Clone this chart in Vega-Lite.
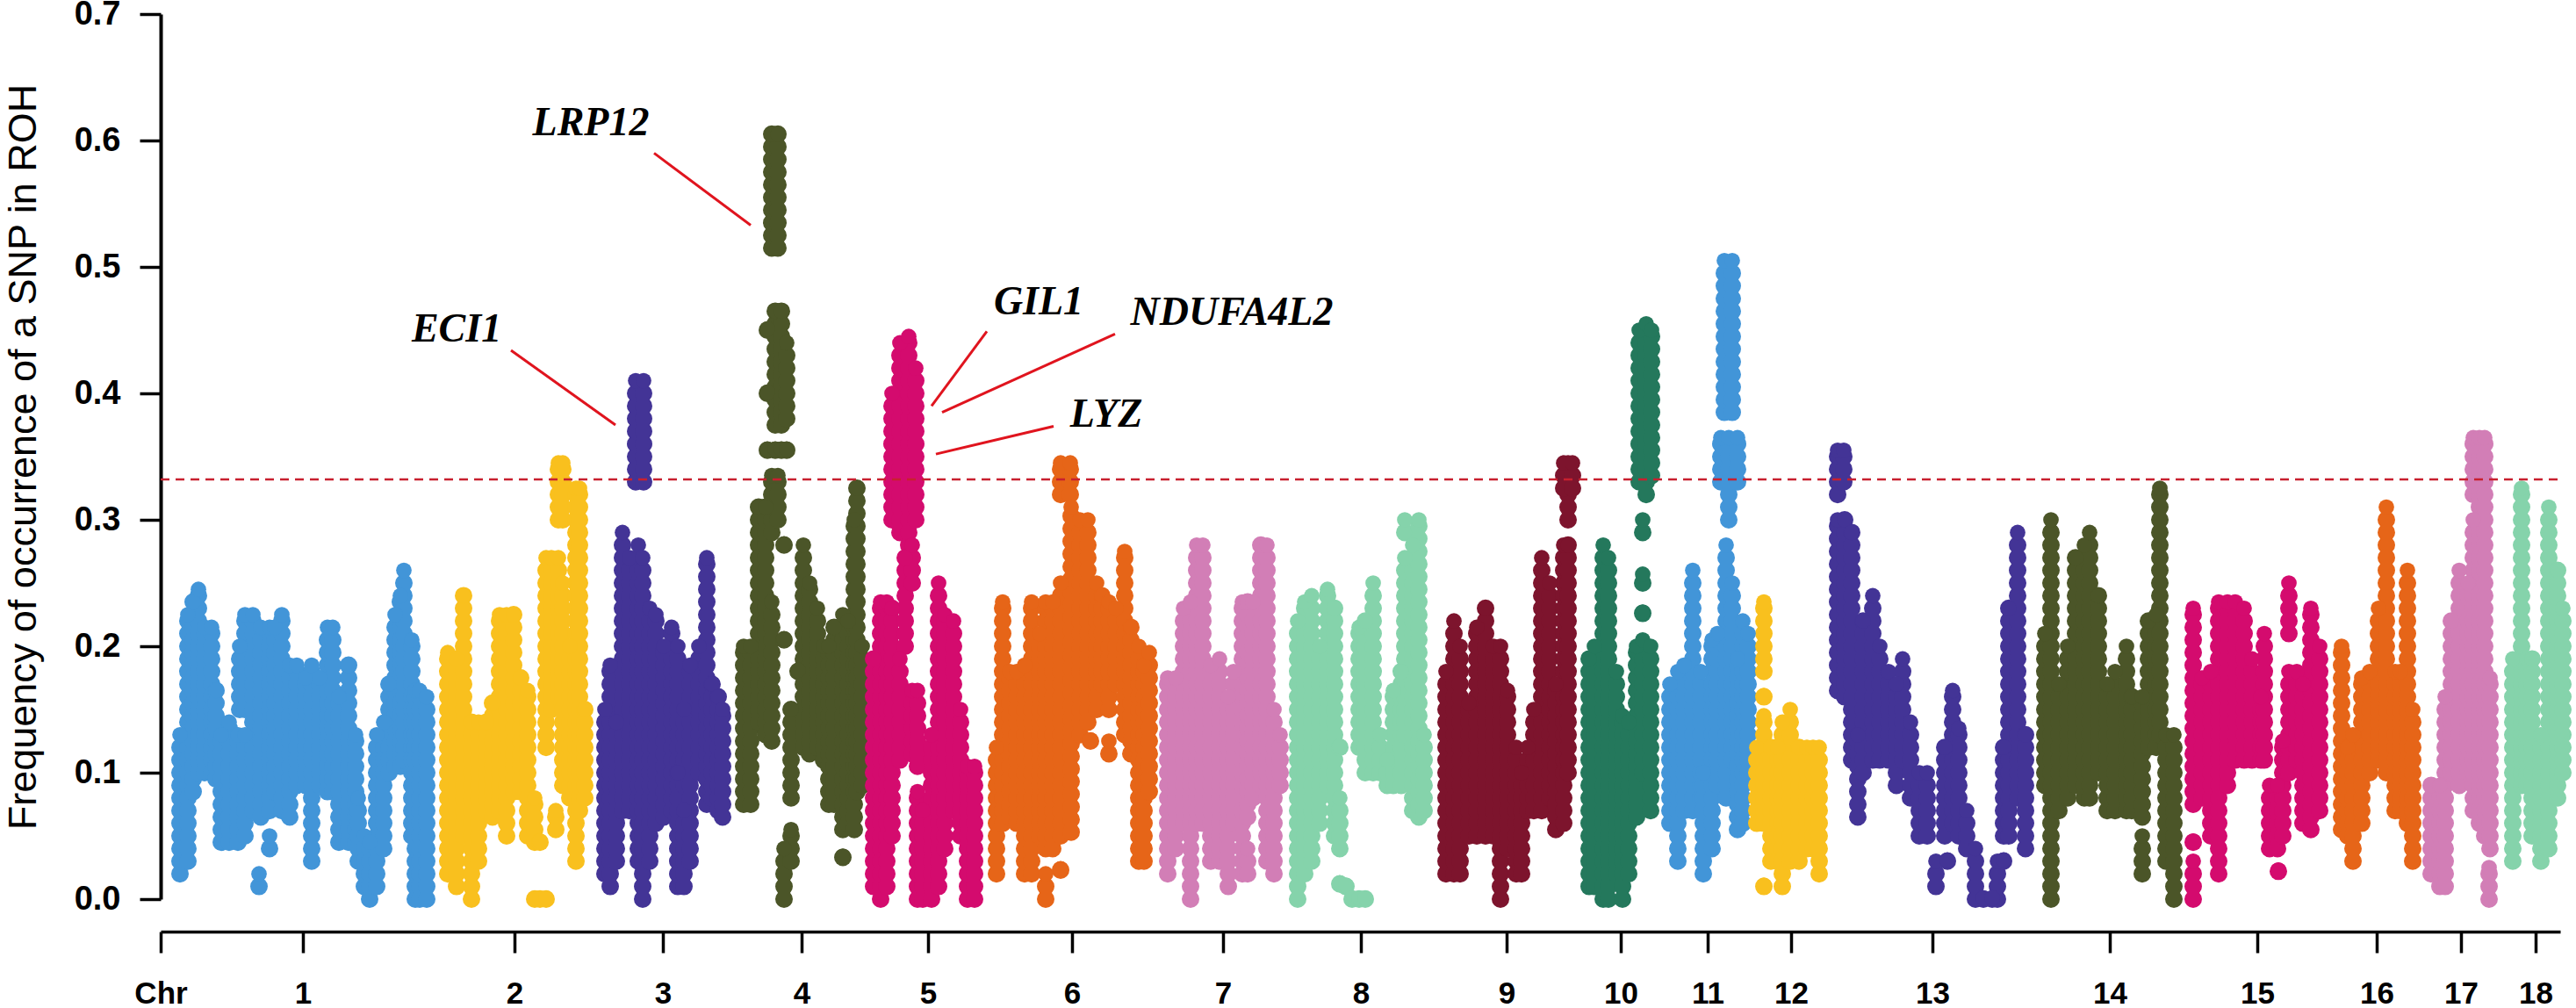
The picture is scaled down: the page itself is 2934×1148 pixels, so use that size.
{
"$schema":"https://vega.github.io/schema/vega-lite/v6.json",
"width":2733,"height":1008,
"autosize":{"type":"none"},
"padding":{"left":183,"top":16,"right":18,"bottom":124},
"background":"white",
"config":{"view":{"stroke":null},"font":"Liberation Sans"},
"datasets":{"runs":[
{"c":1,"x":22,"y":0.02,"y2":0.13},{"c":1,"x":31,"y":0.03,"y2":0.225},{"c":1,"x":37,"y":0.085,"y2":0.235},{"c":1,"x":43,"y":0.1,"y2":0.245},{"c":1,"x":50,"y":0.1,"y2":0.215},{"c":1,"x":58,"y":0.1,"y2":0.215},{"c":1,"x":63,"y":0.095,"y2":0.165},{"c":1,"x":69,"y":0.045,"y2":0.13},{"c":1,"x":78,"y":0.045,"y2":0.14},{"c":1,"x":88,"y":0.045,"y2":0.13},{"c":1,"x":96,"y":0.05,"y2":0.13},{"c":1,"x":90,"y":0.15,"y2":0.2},{"c":1,"x":96,"y":0.15,"y2":0.225},{"c":1,"x":105,"y":0.07,"y2":0.225},{"c":1,"x":112,"y":0.01,"y2":0.02},{"c":1,"x":114,"y":0.065,"y2":0.215},{"c":1,"x":124,"y":0.04,"y2":0.05},{"c":1,"x":124,"y":0.07,"y2":0.215},{"c":1,"x":130,"y":0.085,"y2":0.215},{"c":1,"x":138,"y":0.07,"y2":0.225},{"c":1,"x":147,"y":0.065,"y2":0.185},{"c":1,"x":155,"y":0.09,"y2":0.185},{"c":1,"x":165,"y":0.09,"y2":0.175},{"c":1,"x":172,"y":0.03,"y2":0.185},{"c":1,"x":181,"y":0.09,"y2":0.175},{"c":1,"x":190,"y":0.085,"y2":0.215},{"c":1,"x":196,"y":0.085,"y2":0.215},{"c":1,"x":203,"y":0.045,"y2":0.16},{"c":1,"x":214,"y":0.045,"y2":0.185},{"c":1,"x":222,"y":0.045,"y2":0.13},{"c":1,"x":225,"y":0.03,"y2":0.08},{"c":1,"x":232,"y":0.01,"y2":0.05},{"c":1,"x":238,"y":0,"y2":0.045},{"c":1,"x":246,"y":0.01,"y2":0.13},{"c":1,"x":254,"y":0.04,"y2":0.14},{"c":1,"x":260,"y":0.1,"y2":0.17},{"c":1,"x":267,"y":0.105,"y2":0.225},{"c":1,"x":273,"y":0.105,"y2":0.24},{"c":1,"x":277,"y":0.11,"y2":0.26},{"c":1,"x":286,"y":0.05,"y2":0.205},{"c":1,"x":290,"y":0,"y2":0.165},{"c":1,"x":295,"y":0,"y2":0.165},{"c":1,"x":303,"y":0,"y2":0.16},
{"c":2,"x":327,"y":0.02,"y2":0.195},{"c":2,"x":337,"y":0.01,"y2":0.19},{"c":2,"x":345,"y":0.05,"y2":0.24},{"c":2,"x":354,"y":0,"y2":0.14},{"c":2,"x":362,"y":0.03,"y2":0.14},{"c":2,"x":371,"y":0.07,"y2":0.14},{"c":2,"x":378,"y":0.065,"y2":0.155},{"c":2,"x":386,"y":0.07,"y2":0.225},{"c":2,"x":394,"y":0.05,"y2":0.225},{"c":2,"x":402,"y":0.085,"y2":0.225},{"c":2,"x":410,"y":0.085,"y2":0.175},{"c":2,"x":418,"y":0.05,"y2":0.165},{"c":2,"x":426,"y":0.045,"y2":0.08},{"c":2,"x":426,"y":0,"y2":0.001},{"c":2,"x":432,"y":0,"y2":0.001},{"c":2,"x":439,"y":0,"y2":0.001},{"c":2,"x":432,"y":0.045,"y2":0.046},{"c":2,"x":439,"y":0.12,"y2":0.27},{"c":2,"x":445,"y":0.15,"y2":0.27},{"c":2,"x":450,"y":0.055,"y2":0.07},{"c":2,"x":453,"y":0.16,"y2":0.27},{"c":2,"x":453,"y":0.3,"y2":0.345},{"c":2,"x":458,"y":0.09,"y2":0.25},{"c":2,"x":458,"y":0.3,"y2":0.345},{"c":2,"x":466,"y":0.08,"y2":0.2},{"c":2,"x":473,"y":0.03,"y2":0.325},{"c":2,"x":477,"y":0.07,"y2":0.325},{"c":2,"x":483,"y":0.08,"y2":0.15},
{"c":3,"x":506,"y":0.02,"y2":0.15},{"c":3,"x":512,"y":0.01,"y2":0.185},{"c":3,"x":519,"y":0.03,"y2":0.14},{"c":3,"x":526,"y":0.07,"y2":0.29},{"c":3,"x":534,"y":0.07,"y2":0.27},{"c":3,"x":544,"y":0.03,"y2":0.28},{"c":3,"x":549,"y":0,"y2":0.27},{"c":3,"x":557,"y":0.03,"y2":0.23},{"c":3,"x":564,"y":0.06,"y2":0.225},{"c":3,"x":573,"y":0.065,"y2":0.2},{"c":3,"x":582,"y":0.07,"y2":0.215},{"c":3,"x":589,"y":0.1,"y2":0.2},{"c":3,"x":589,"y":0.01,"y2":0.1},{"c":3,"x":596,"y":0.01,"y2":0.07},{"c":3,"x":596,"y":0.09,"y2":0.15},{"c":3,"x":603,"y":0.03,"y2":0.185},{"c":3,"x":613,"y":0.1,"y2":0.2},{"c":3,"x":622,"y":0.075,"y2":0.27},{"c":3,"x":628,"y":0.08,"y2":0.17},{"c":3,"x":635,"y":0.07,"y2":0.16},{"c":3,"x":640,"y":0.065,"y2":0.15},{"c":3,"x":541,"y":0.33,"y2":0.41},{"c":3,"x":550,"y":0.33,"y2":0.41},
{"c":4,"x":664,"y":0.075,"y2":0.2},{"c":4,"x":672,"y":0.075,"y2":0.2},{"c":4,"x":681,"y":0.14,"y2":0.31},{"c":4,"x":689,"y":0.13,"y2":0.31},{"c":4,"x":696,"y":0.125,"y2":0.235},{"c":4,"x":696,"y":0.29,"y2":0.335},{"c":4,"x":703,"y":0.3,"y2":0.335},{"c":4,"x":696,"y":0.515,"y2":0.605},{"c":4,"x":703,"y":0.515,"y2":0.605},{"c":4,"x":691,"y":0.355,"y2":0.356},{"c":4,"x":700,"y":0.355,"y2":0.356},{"c":4,"x":707,"y":0.355,"y2":0.356},{"c":4,"x":713,"y":0.355,"y2":0.356},{"c":4,"x":691,"y":0.4,"y2":0.401},{"c":4,"x":691,"y":0.45,"y2":0.451},{"c":4,"x":700,"y":0.375,"y2":0.465},{"c":4,"x":707,"y":0.375,"y2":0.465},{"c":4,"x":713,"y":0.38,"y2":0.44},{"c":4,"x":710,"y":0.28,"y2":0.281},{"c":4,"x":710,"y":0.205,"y2":0.206},{"c":4,"x":710,"y":0,"y2":0.04},{"c":4,"x":718,"y":0.03,"y2":0.055},{"c":4,"x":718,"y":0.08,"y2":0.15},{"c":4,"x":726,"y":0.18,"y2":0.181},{"c":4,"x":732,"y":0.12,"y2":0.28},{"c":4,"x":739,"y":0.115,"y2":0.25},{"c":4,"x":748,"y":0.12,"y2":0.23},{"c":4,"x":755,"y":0.11,"y2":0.2},{"c":4,"x":761,"y":0.075,"y2":0.2},{"c":4,"x":767,"y":0.075,"y2":0.215},{"c":4,"x":777,"y":0.055,"y2":0.225},{"c":4,"x":777,"y":0.033,"y2":0.034},{"c":4,"x":783,"y":0.06,"y2":0.22},{"c":4,"x":790,"y":0.055,"y2":0.3},{"c":4,"x":793,"y":0.085,"y2":0.325},{"c":4,"x":799,"y":0.09,"y2":0.2},
{"c":5,"x":812,"y":0.01,"y2":0.19},{"c":5,"x":820,"y":0,"y2":0.235},{"c":5,"x":827,"y":0.01,"y2":0.235},{"c":5,"x":833,"y":0.05,"y2":0.23},{"c":5,"x":833,"y":0.3,"y2":0.4},{"c":5,"x":842,"y":0.11,"y2":0.19},{"c":5,"x":842,"y":0.29,"y2":0.44},{"c":5,"x":852,"y":0.28,"y2":0.445},{"c":5,"x":860,"y":0.3,"y2":0.42},{"c":5,"x":848,"y":0.2,"y2":0.27},{"c":5,"x":856,"y":0.25,"y2":0.28},{"c":5,"x":856,"y":0.115,"y2":0.165},{"c":5,"x":862,"y":0,"y2":0.085},{"c":5,"x":862,"y":0.105,"y2":0.165},{"c":5,"x":868,"y":0,"y2":0.07},{"c":5,"x":878,"y":0,"y2":0.13},{"c":5,"x":886,"y":0.01,"y2":0.25},{"c":5,"x":893,"y":0.04,"y2":0.225},{"c":5,"x":903,"y":0.07,"y2":0.22},{"c":5,"x":911,"y":0.05,"y2":0.15},{"c":5,"x":919,"y":0,"y2":0.105},{"c":5,"x":927,"y":0,"y2":0.105},
{"c":6,"x":952,"y":0.02,"y2":0.12},{"c":6,"x":959,"y":0.06,"y2":0.235},{"c":6,"x":967,"y":0.065,"y2":0.18},{"c":6,"x":975,"y":0.06,"y2":0.18},{"c":6,"x":984,"y":0.02,"y2":0.185},{"c":6,"x":992,"y":0.02,"y2":0.235},{"c":6,"x":1001,"y":0.05,"y2":0.21},{"c":6,"x":1008,"y":0,"y2":0.02},{"c":6,"x":1008,"y":0.04,"y2":0.235},{"c":6,"x":1016,"y":0.04,"y2":0.235},{"c":6,"x":1025,"y":0.023,"y2":0.024},{"c":6,"x":1025,"y":0.05,"y2":0.25},{"c":6,"x":1025,"y":0.32,"y2":0.345},{"c":6,"x":1036,"y":0.32,"y2":0.345},{"c":6,"x":1037,"y":0.053,"y2":0.31},{"c":6,"x":1047,"y":0.13,"y2":0.3},{"c":6,"x":1056,"y":0.14,"y2":0.3},{"c":6,"x":1059,"y":0.125,"y2":0.126},{"c":6,"x":1066,"y":0.15,"y2":0.25},{"c":6,"x":1072,"y":0.17,"y2":0.24},{"c":6,"x":1080,"y":0.115,"y2":0.125},{"c":6,"x":1080,"y":0.15,"y2":0.235},{"c":6,"x":1088,"y":0.17,"y2":0.23},{"c":6,"x":1098,"y":0.13,"y2":0.275},{"c":6,"x":1105,"y":0.115,"y2":0.215},{"c":6,"x":1114,"y":0.03,"y2":0.2},{"c":6,"x":1120,"y":0.03,"y2":0.185},{"c":6,"x":1126,"y":0.085,"y2":0.195},
{"c":7,"x":1147,"y":0.02,"y2":0.175},{"c":7,"x":1156,"y":0.04,"y2":0.175},{"c":7,"x":1165,"y":0.06,"y2":0.23},{"c":7,"x":1173,"y":0,"y2":0.235},{"c":7,"x":1180,"y":0.06,"y2":0.28},{"c":7,"x":1187,"y":0.06,"y2":0.28},{"c":7,"x":1196,"y":0.03,"y2":0.185},{"c":7,"x":1206,"y":0.03,"y2":0.19},{"c":7,"x":1216,"y":0.01,"y2":0.16},{"c":7,"x":1222,"y":0.06,"y2":0.18},{"c":7,"x":1232,"y":0.02,"y2":0.235},{"c":7,"x":1238,"y":0.02,"y2":0.04},{"c":7,"x":1238,"y":0.065,"y2":0.235},{"c":7,"x":1244,"y":0.08,"y2":0.235},{"c":7,"x":1253,"y":0.09,"y2":0.28},{"c":7,"x":1260,"y":0.03,"y2":0.28},{"c":7,"x":1268,"y":0.02,"y2":0.15},{"c":7,"x":1275,"y":0.09,"y2":0.13},
{"c":8,"x":1295,"y":0,"y2":0.22},{"c":8,"x":1303,"y":0.02,"y2":0.235},{"c":8,"x":1311,"y":0.03,"y2":0.24},{"c":8,"x":1320,"y":0.06,"y2":0.2},{"c":8,"x":1329,"y":0.09,"y2":0.245},{"c":8,"x":1337,"y":0.05,"y2":0.23},{"c":8,"x":1343,"y":0.04,"y2":0.08},{"c":8,"x":1343,"y":0.12,"y2":0.121},{"c":8,"x":1343,"y":0.012,"y2":0.013},{"c":8,"x":1350,"y":0.01,"y2":0.011},{"c":8,"x":1357,"y":0,"y2":0.001},{"c":8,"x":1365,"y":0,"y2":0.001},{"c":8,"x":1372,"y":0,"y2":0.001},{"c":8,"x":1365,"y":0.12,"y2":0.215},{"c":8,"x":1372,"y":0.1,"y2":0.22},{"c":8,"x":1381,"y":0.1,"y2":0.25},{"c":8,"x":1389,"y":0.1,"y2":0.13},{"c":8,"x":1397,"y":0.09,"y2":0.11},{"c":8,"x":1404,"y":0.09,"y2":0.165},{"c":8,"x":1413,"y":0.09,"y2":0.18},{"c":8,"x":1417,"y":0.13,"y2":0.27},{"c":8,"x":1417,"y":0.29,"y2":0.3},{"c":8,"x":1426,"y":0.07,"y2":0.28},{"c":8,"x":1433,"y":0.065,"y2":0.3},{"c":8,"x":1439,"y":0.07,"y2":0.13},
{"c":9,"x":1464,"y":0.02,"y2":0.18},{"c":9,"x":1473,"y":0.02,"y2":0.22},{"c":9,"x":1480,"y":0.02,"y2":0.2},{"c":9,"x":1490,"y":0.05,"y2":0.155},{"c":9,"x":1499,"y":0.05,"y2":0.215},{"c":9,"x":1509,"y":0.05,"y2":0.23},{"c":9,"x":1518,"y":0.05,"y2":0.2},{"c":9,"x":1526,"y":0,"y2":0.2},{"c":9,"x":1534,"y":0.04,"y2":0.165},{"c":9,"x":1544,"y":0.02,"y2":0.12},{"c":9,"x":1550,"y":0.02,"y2":0.1},{"c":9,"x":1557,"y":0.07,"y2":0.12},{"c":9,"x":1564,"y":0.07,"y2":0.15},{"c":9,"x":1573,"y":0.07,"y2":0.27},{"c":9,"x":1582,"y":0.08,"y2":0.25},{"c":9,"x":1589,"y":0.055,"y2":0.17},{"c":9,"x":1598,"y":0.06,"y2":0.28},{"c":9,"x":1603,"y":0.1,"y2":0.28},{"c":9,"x":1603,"y":0.3,"y2":0.345},{"c":9,"x":1598,"y":0.325,"y2":0.345},{"c":9,"x":1608,"y":0.325,"y2":0.345},
{"c":10,"x":1627,"y":0.01,"y2":0.19},{"c":10,"x":1633,"y":0.01,"y2":0.2},{"c":10,"x":1643,"y":0,"y2":0.28},{"c":10,"x":1649,"y":0,"y2":0.27},{"c":10,"x":1658,"y":0.02,"y2":0.18},{"c":10,"x":1665,"y":0,"y2":0.145},{"c":10,"x":1672,"y":0.02,"y2":0.14},{"c":10,"x":1681,"y":0.065,"y2":0.2},{"c":10,"x":1688,"y":0.1,"y2":0.205},{"c":10,"x":1688,"y":0.29,"y2":0.3},{"c":10,"x":1688,"y":0.25,"y2":0.257},{"c":10,"x":1688,"y":0.226,"y2":0.227},{"c":10,"x":1697,"y":0.07,"y2":0.2},{"c":10,"x":1684,"y":0.33,"y2":0.45},{"c":10,"x":1692,"y":0.32,"y2":0.455},{"c":10,"x":1698,"y":0.335,"y2":0.45},
{"c":11,"x":1719,"y":0.06,"y2":0.17},{"c":11,"x":1728,"y":0.03,"y2":0.18},{"c":11,"x":1735,"y":0.07,"y2":0.185},{"c":11,"x":1745,"y":0.07,"y2":0.26},{"c":11,"x":1754,"y":0.08,"y2":0.18},{"c":11,"x":1757,"y":0.02,"y2":0.1},{"c":11,"x":1767,"y":0.04,"y2":0.205},{"c":11,"x":1773,"y":0.09,"y2":0.21},{"c":11,"x":1783,"y":0.08,"y2":0.28},{"c":11,"x":1790,"y":0.11,"y2":0.25},{"c":11,"x":1796,"y":0.055,"y2":0.19},{"c":11,"x":1802,"y":0.06,"y2":0.22},{"c":11,"x":1808,"y":0.1,"y2":0.21},{"c":11,"x":1781,"y":0.385,"y2":0.505},{"c":11,"x":1790,"y":0.385,"y2":0.505},{"c":11,"x":1777,"y":0.33,"y2":0.365},{"c":11,"x":1786,"y":0.3,"y2":0.365},{"c":11,"x":1796,"y":0.33,"y2":0.365},
{"c":12,"x":1818,"y":0.06,"y2":0.12},{"c":12,"x":1826,"y":0.18,"y2":0.235},{"c":12,"x":1826,"y":0.16,"y2":0.161},{"c":12,"x":1826,"y":0.06,"y2":0.145},{"c":12,"x":1826,"y":0.01,"y2":0.011},{"c":12,"x":1834,"y":0.03,"y2":0.12},{"c":12,"x":1842,"y":0.03,"y2":0.12},{"c":12,"x":1847,"y":0.01,"y2":0.14},{"c":12,"x":1856,"y":0.03,"y2":0.15},{"c":12,"x":1866,"y":0.03,"y2":0.12},{"c":12,"x":1875,"y":0.04,"y2":0.12},{"c":12,"x":1882,"y":0.04,"y2":0.12},{"c":12,"x":1889,"y":0.02,"y2":0.12},
{"c":13,"x":1910,"y":0.165,"y2":0.3},{"c":13,"x":1910,"y":0.32,"y2":0.355},{"c":13,"x":1917,"y":0.33,"y2":0.355},{"c":13,"x":1918,"y":0.16,"y2":0.3},{"c":13,"x":1926,"y":0.11,"y2":0.29},{"c":13,"x":1933,"y":0.065,"y2":0.13},{"c":13,"x":1939,"y":0.1,"y2":0.22},{"c":13,"x":1950,"y":0.11,"y2":0.24},{"c":13,"x":1958,"y":0.11,"y2":0.2},{"c":13,"x":1968,"y":0.11,"y2":0.18},{"c":13,"x":1977,"y":0.09,"y2":0.17},{"c":13,"x":1984,"y":0.11,"y2":0.19},{"c":13,"x":1993,"y":0.08,"y2":0.14},{"c":13,"x":2003,"y":0.05,"y2":0.1},{"c":13,"x":2012,"y":0.05,"y2":0.1},{"c":13,"x":2022,"y":0.01,"y2":0.03},{"c":13,"x":2035,"y":0.03,"y2":0.031},{"c":13,"x":2032,"y":0.05,"y2":0.12},{"c":13,"x":2041,"y":0.06,"y2":0.165},{"c":13,"x":2048,"y":0.05,"y2":0.135},{"c":13,"x":2057,"y":0.04,"y2":0.07},{"c":13,"x":2067,"y":0,"y2":0.04},{"c":13,"x":2076,"y":0,"y2":0.001},{"c":13,"x":2086,"y":0,"y2":0.001},{"c":13,"x":2092,"y":0,"y2":0.03},{"c":13,"x":2099,"y":0.03,"y2":0.031},{"c":13,"x":2099,"y":0.05,"y2":0.12},{"c":13,"x":2105,"y":0.05,"y2":0.23},{"c":13,"x":2115,"y":0.08,"y2":0.29},{"c":13,"x":2124,"y":0.04,"y2":0.13},
{"c":14,"x":2146,"y":0.09,"y2":0.21},{"c":14,"x":2153,"y":0,"y2":0.3},{"c":14,"x":2162,"y":0.07,"y2":0.17},{"c":14,"x":2172,"y":0.08,"y2":0.2},{"c":14,"x":2181,"y":0.09,"y2":0.27},{"c":14,"x":2191,"y":0.08,"y2":0.28},{"c":14,"x":2197,"y":0.08,"y2":0.29},{"c":14,"x":2207,"y":0.1,"y2":0.24},{"c":14,"x":2217,"y":0.07,"y2":0.17},{"c":14,"x":2226,"y":0.07,"y2":0.18},{"c":14,"x":2239,"y":0.07,"y2":0.2},{"c":14,"x":2245,"y":0.07,"y2":0.16},{"c":14,"x":2257,"y":0.02,"y2":0.05},{"c":14,"x":2257,"y":0.065,"y2":0.16},{"c":14,"x":2264,"y":0.12,"y2":0.22},{"c":14,"x":2273,"y":0.12,"y2":0.225},{"c":14,"x":2277,"y":0.13,"y2":0.325},{"c":14,"x":2284,"y":0.03,"y2":0.13},{"c":14,"x":2293,"y":0,"y2":0.13},
{"c":15,"x":2315,"y":0,"y2":0.03},{"c":15,"x":2315,"y":0.045,"y2":0.046},{"c":15,"x":2315,"y":0.075,"y2":0.23},{"c":15,"x":2325,"y":0.08,"y2":0.175},{"c":15,"x":2335,"y":0.05,"y2":0.18},{"c":15,"x":2344,"y":0.02,"y2":0.235},{"c":15,"x":2354,"y":0.09,"y2":0.235},{"c":15,"x":2363,"y":0.11,"y2":0.235},{"c":15,"x":2373,"y":0.11,"y2":0.23},{"c":15,"x":2382,"y":0.11,"y2":0.19},{"c":15,"x":2392,"y":0.11,"y2":0.16},{"c":15,"x":2396,"y":0.11,"y2":0.21},{"c":15,"x":2402,"y":0.04,"y2":0.09},{"c":15,"x":2411,"y":0.04,"y2":0.09},{"c":15,"x":2412,"y":0.022,"y2":0.023},{"c":15,"x":2417,"y":0.05,"y2":0.125},{"c":15,"x":2424,"y":0.1,"y2":0.18},{"c":15,"x":2424,"y":0.21,"y2":0.25},{"c":15,"x":2433,"y":0.11,"y2":0.18},{"c":15,"x":2440,"y":0.06,"y2":0.17},{"c":15,"x":2449,"y":0.055,"y2":0.23},{"c":15,"x":2459,"y":0.07,"y2":0.2},
{"c":16,"x":2484,"y":0.055,"y2":0.2},{"c":16,"x":2491,"y":0.05,"y2":0.12},{"c":16,"x":2497,"y":0.03,"y2":0.13},{"c":16,"x":2507,"y":0.06,"y2":0.175},{"c":16,"x":2516,"y":0.1,"y2":0.18},{"c":16,"x":2526,"y":0.11,"y2":0.23},{"c":16,"x":2535,"y":0.1,"y2":0.31},{"c":16,"x":2545,"y":0.07,"y2":0.18},{"c":16,"x":2551,"y":0.07,"y2":0.18},{"c":16,"x":2559,"y":0.06,"y2":0.26},{"c":16,"x":2565,"y":0.03,"y2":0.15},
{"c":17,"x":2586,"y":0.02,"y2":0.09},{"c":17,"x":2596,"y":0.01,"y2":0.09},{"c":17,"x":2602,"y":0.01,"y2":0.16},{"c":17,"x":2609,"y":0.1,"y2":0.22},{"c":17,"x":2618,"y":0.09,"y2":0.26},{"c":17,"x":2628,"y":0.1,"y2":0.25},{"c":17,"x":2634,"y":0.07,"y2":0.3},{"c":17,"x":2634,"y":0.32,"y2":0.365},{"c":17,"x":2641,"y":0.06,"y2":0.365},{"c":17,"x":2647,"y":0.05,"y2":0.365},{"c":17,"x":2653,"y":0.04,"y2":0.175},{"c":17,"x":2652,"y":0,"y2":0.025},
{"c":18,"x":2679,"y":0.03,"y2":0.19},{"c":18,"x":2689,"y":0.09,"y2":0.325},{"c":18,"x":2695,"y":0.09,"y2":0.19},{"c":18,"x":2701,"y":0.05,"y2":0.19},{"c":18,"x":2711,"y":0.03,"y2":0.13},{"c":18,"x":2720,"y":0.04,"y2":0.31},{"c":18,"x":2730,"y":0.08,"y2":0.26},{"c":18,"x":2736,"y":0.1,"y2":0.23}
]},
"encoding":{
"x":{"field":"x","type":"quantitative","scale":{"domain":[0,2733],"nice":false},
 "axis":{"title":null,"offset":37,"grid":false,"values":[0,162,403,572,730,874,1038,1210,1367,1533,1663,1762,1857,2018,2220,2388,2524,2620,2705],
 "labelExpr":"{'0':'Chr','162':'1','403':'2','572':'3','730':'4','874':'5','1038':'6','1210':'7','1367':'8','1533':'9','1663':'10','1762':'11','1857':'12','2018':'13','2220':'14','2388':'15','2524':'16','2620':'17','2705':'18'}[''+datum.value]",
 "labelFontSize":35,"labelFontWeight":"bold","labelColor":"black","labelPadding":29,"labelOverlap":false,"labelFlush":false,"tickSize":24,"tickWidth":3.5,"tickColor":"black","domainColor":"black","domainWidth":3.5}},
"y":{"field":"y","type":"quantitative","scale":{"domain":[0,0.7],"nice":false},
 "axis":{"title":"Frequency of occurrence of a SNP in ROH","titleFontSize":45,"titleFontWeight":"normal","titleColor":"black","titleX":-143,"titleY":504,"titleAnchor":"middle","titleBaseline":"alphabetic","grid":false,"values":[0,0.1,0.2,0.3,0.4,0.5,0.6,0.7],"format":".1f","labelFontSize":38,"labelFontWeight":"bold","labelColor":"black","labelPadding":22,"tickSize":24,"tickWidth":3.5,"tickColor":"black","domainColor":"black","domainWidth":4}}
},
"layer":[
{"data":{"name":"runs"},
"mark":{"type":"rule","size":20,"strokeCap":"round","strokeDash":[0.01,14.39],"clip":false},
"encoding":{"y2":{"field":"y2"},
"color":{"field":"c","type":"nominal","legend":null,"scale":{"domain":[1,2,3,4,5,6,7,8,9,10,11,12,13,14,15,16,17,18],"range":["#4295d8","#f9c01e","#433496","#4b5528","#d40b6e","#e66518","#d27eb6","#85d3ab","#7d142d","#24785c","#4295d8","#f9c01e","#433496","#4b5528","#d40b6e","#e66518","#d27eb6","#85d3ab"]}}}},
{"data":{"name":"runs"},
"mark":{"type":"point","filled":true,"opacity":1,"size":314,"clip":false},
"encoding":{"y":{"field":"y2","type":"quantitative"},
"color":{"field":"c","type":"nominal","legend":null}}},
{"data":{"values":[{"x":0,"x2":2733,"y":0.332,"y2":0.332}]},
"mark":{"type":"rule","color":"#c8202f","size":2.5,"strokeDash":[10,7]},
"encoding":{"x2":{"field":"x2"},"y2":{"field":"y2"}}},
{"data":{"values":[
{"x":562,"x2":672,"y":0.59,"y2":0.533},
{"x":399,"x2":518,"y":0.434,"y2":0.375},
{"x":941,"x2":878,"y":0.449,"y2":0.39},
{"x":1087,"x2":890,"y":0.447,"y2":0.385},
{"x":1017,"x2":883,"y":0.374,"y2":0.352}
]},
"mark":{"type":"rule","color":"#e0141e","size":3},
"encoding":{"x2":{"field":"x2"},"y2":{"field":"y2"}}},
{"data":{"values":[
{"x":490,"y":0.614,"t":"LRP12"},
{"x":337,"y":0.451,"t":"ECI1"},
{"x":1000,"y":0.472,"t":"GIL1"},
{"x":1220,"y":0.464,"t":"NDUFA4L2"},
{"x":1077,"y":0.383,"t":"LYZ"}
]},
"mark":{"type":"text","font":"Liberation Serif","fontStyle":"italic","fontWeight":"bold","fontSize":46,"color":"black"},
"encoding":{"text":{"field":"t"}}}
]
}
